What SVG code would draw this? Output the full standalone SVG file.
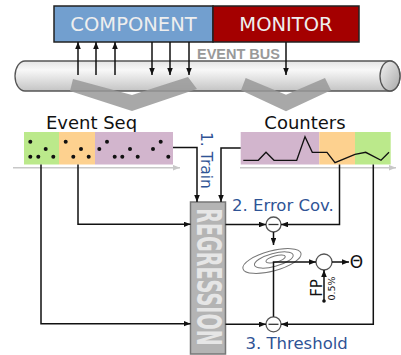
<svg xmlns="http://www.w3.org/2000/svg" width="401" height="355" viewBox="0 0 401 355">
<defs>
<style>
.ln{fill:none;stroke:#111;stroke-width:1.5}
.ax{fill:none;stroke:#c8c8c8;stroke-width:1.5}
.lbl{font-family:"DejaVu Sans",sans-serif;fill:#2f5496}
.dot{fill:#111}
.op{fill:#fff;stroke:#555;stroke-width:1.3}
.ell{fill:none;stroke:#777;stroke-width:1}
.chev{fill:#999;opacity:0.85}
</style>
<marker id="ah" viewBox="0 0 10 8" refX="10" refY="4" markerWidth="7" markerHeight="5.6" orient="auto" markerUnits="userSpaceOnUse"><path d="M0,0 L10,4 L0,8 z" fill="#111"/></marker>
<marker id="ag" viewBox="0 0 10 8" refX="10" refY="4" markerWidth="7" markerHeight="5.6" orient="auto" markerUnits="userSpaceOnUse"><path d="M0,0 L10,4 L0,8 z" fill="#c8c8c8"/></marker>
<linearGradient id="cyl" x1="0" y1="0" x2="0" y2="1">
<stop offset="0" stop-color="#e4e4e4"/>
<stop offset="0.3" stop-color="#f8f8f8"/>
<stop offset="1" stop-color="#c4c4c4"/>
</linearGradient>
<linearGradient id="cap" x1="0" y1="0" x2="1" y2="1">
<stop offset="0" stop-color="#f2f2f2"/>
<stop offset="1" stop-color="#a8a8a8"/>
</linearGradient>
</defs>

<g id="bus">
<path d="M25,61 H390 A10,15 0 0 1 390,91 H25 A10,15 0 0 1 25,61 Z" fill="url(#cyl)" stroke="#555" stroke-width="1.3"/>
<ellipse cx="390" cy="76" rx="10" ry="15" fill="url(#cap)" stroke="#555" stroke-width="1.3"/>
<text x="238.5" y="59" text-anchor="middle" font-family="Liberation Sans, Arial, sans-serif" font-weight="bold" font-size="14.5" fill="#999">EVENT BUS</text>
</g>

<g id="component">
<rect x="54" y="6" width="159" height="36" fill="#729fcf" stroke="#222" stroke-width="1.5"/>
<text x="133.5" y="31" text-anchor="middle" font-family="DejaVu Sans, sans-serif" font-size="19.5" fill="#eeeeee">COMPONENT</text>
</g>
<g id="monitor">
<rect x="213" y="6" width="146" height="36" fill="#a40000" stroke="#222" stroke-width="1.5"/>
<text x="286" y="31" text-anchor="middle" font-family="DejaVu Sans, sans-serif" font-size="19.5" fill="#eeeeee">MONITOR</text>
</g>

<g id="chevrons">
<polygon class="chev" points="73,79 132,95 188,77 197,89 132,111 70,91"/>
<polygon class="chev" points="245.7,78 286,94.7 325,78 331,90.3 286,111.3 241,90.3"/>
</g>

<g id="eventseq">
<text x="91.5" y="129" text-anchor="middle" font-family="DejaVu Sans, sans-serif" font-size="18" fill="#111">Event Seq</text>
<rect x="24" y="132" width="35" height="32.5" fill="#bbe98b"/>
<rect x="59" y="132" width="36" height="32.5" fill="#fdd18f"/>
<rect x="95" y="132" width="78" height="32.5" fill="#d2b5cd"/>
<g class="dot">
<circle cx="30.3" cy="141.7" r="2"/><circle cx="45.7" cy="149" r="2"/><circle cx="30.3" cy="156.7" r="2"/><circle cx="38.3" cy="156.7" r="2"/><circle cx="53.3" cy="156.7" r="2"/>
<circle cx="65.7" cy="141.7" r="2"/><circle cx="81" cy="149" r="2"/><circle cx="73.3" cy="156.7" r="2"/><circle cx="88.7" cy="156.7" r="2"/>
<circle cx="107" cy="141.7" r="2"/><circle cx="99.3" cy="149" r="2"/><circle cx="114.7" cy="156.7" r="2"/><circle cx="122.3" cy="156.7" r="2"/><circle cx="130" cy="149" r="2"/><circle cx="137.7" cy="156.7" r="2"/><circle cx="153" cy="149" r="2"/><circle cx="160.7" cy="141.7" r="2"/><circle cx="168.3" cy="156.7" r="2"/>
</g>
<line class="ax" x1="13" y1="167.7" x2="180" y2="167.7" marker-end="url(#ag)"/>
</g>

<g id="counters">
<text x="305" y="129" text-anchor="middle" font-family="DejaVu Sans, sans-serif" font-size="18" fill="#111">Counters</text>
<rect x="240.7" y="132" width="78.6" height="32.5" fill="#d2b5cd"/>
<rect x="319.3" y="132" width="35.7" height="32.5" fill="#fdd18f"/>
<rect x="355" y="132" width="35.7" height="32.5" fill="#bbe98b"/>
<polyline fill="none" stroke="#111" stroke-width="1.3" points="243.3,160.3 258.3,160.3 266,152.3 274,160.3 296.7,160.3 305,136.7 312.3,152.3 327,152.3 335,162.7 355,154.3 365.7,152.3 381,160.3 389,152.3"/>
<line class="ax" x1="240" y1="167.7" x2="396" y2="167.7" marker-end="url(#ag)"/>
</g>

<g id="regression">
<rect x="190.5" y="202" width="35" height="152" fill="#b4b4b4" stroke="#777" stroke-width="1.5"/>
<text transform="translate(196.5,277) rotate(90) scale(0.563,1)" text-anchor="middle" font-family="DejaVu Sans, sans-serif" font-weight="bold" font-size="34" fill="#e6e6e6">REGRESSION</text>
</g>

<g id="ops">
<circle class="op" cx="273.5" cy="224.5" r="7.5"/>
<line x1="268.5" y1="224.5" x2="278.5" y2="224.5" stroke="#333" stroke-width="1.3"/>
<circle class="op" cx="273.5" cy="324.3" r="7.5"/>
<line x1="268.5" y1="324.3" x2="278.5" y2="324.3" stroke="#333" stroke-width="1.3"/>
<g transform="translate(272,261) rotate(-15)">
<ellipse class="ell" cx="0" cy="0" rx="30" ry="10"/>
<ellipse class="ell" cx="2" cy="-0.5" rx="20" ry="6.5"/>
<ellipse class="ell" cx="4" cy="-1" rx="10" ry="3.2"/>
</g>
<circle class="op" cx="324" cy="262" r="8"/>
<text x="356.5" y="268" text-anchor="middle" font-family="DejaVu Sans, sans-serif" font-size="17" fill="#111">Θ</text>
<text transform="translate(322,288) rotate(-90)" text-anchor="middle" font-family="DejaVu Sans, sans-serif" font-size="15" fill="#111">FP</text>
<text transform="translate(334.5,288.5) rotate(-90)" text-anchor="middle" font-family="DejaVu Sans, sans-serif" font-size="9.5" fill="#111">0.5%</text>
</g>

<g id="labels">
<text class="lbl" transform="translate(201,132) rotate(90)" font-size="15.5">1. Train</text>
<text class="lbl" x="232" y="211" font-size="16.5">2. Error Cov.</text>
<text class="lbl" x="245.5" y="349" font-size="16.5">3. Threshold</text>
</g>

<g id="connectors">
<line class="ln" x1="78" y1="75" x2="78" y2="42" marker-end="url(#ah)"/>
<line class="ln" x1="96" y1="75" x2="96" y2="42" marker-end="url(#ah)"/>
<line class="ln" x1="115" y1="75" x2="115" y2="42" marker-end="url(#ah)"/>
<line class="ln" x1="152" y1="42" x2="152" y2="75" marker-end="url(#ah)"/>
<line class="ln" x1="170" y1="42" x2="170" y2="75" marker-end="url(#ah)"/>
<line class="ln" x1="189" y1="42" x2="189" y2="75" marker-end="url(#ah)"/>
<line class="ln" x1="286" y1="42" x2="286" y2="75" marker-end="url(#ah)"/>

<path class="ln" d="M173,147.5 H197 V202" marker-end="url(#ah)"/>
<path class="ln" d="M240.7,148 H221 V202" marker-end="url(#ah)"/>
<path class="ln" d="M78,164.5 V224.3 H190.5" marker-end="url(#ah)"/>
<path class="ln" d="M41,164.5 V323.7 H190.5" marker-end="url(#ah)"/>
<path class="ln" d="M225.5,224.5 H266" marker-end="url(#ah)"/>
<path class="ln" d="M225.5,324.3 H266" marker-end="url(#ah)"/>
<path class="ln" d="M339.5,164.5 V224.5 H281" marker-end="url(#ah)"/>
<path class="ln" d="M373.3,164.5 V324.3 H281" marker-end="url(#ah)"/>
<path class="ln" d="M273.5,232 V245" marker-end="url(#ah)"/>
<path class="ln" d="M273.5,316.8 V262 H316" marker-end="url(#ah)"/>
<path class="ln" d="M332,262 H349" marker-end="url(#ah)"/>
<path class="ln" d="M324,301 V270" marker-end="url(#ah)"/>
<circle cx="324" cy="301" r="1.8" fill="#111"/>
</g>
</svg>
